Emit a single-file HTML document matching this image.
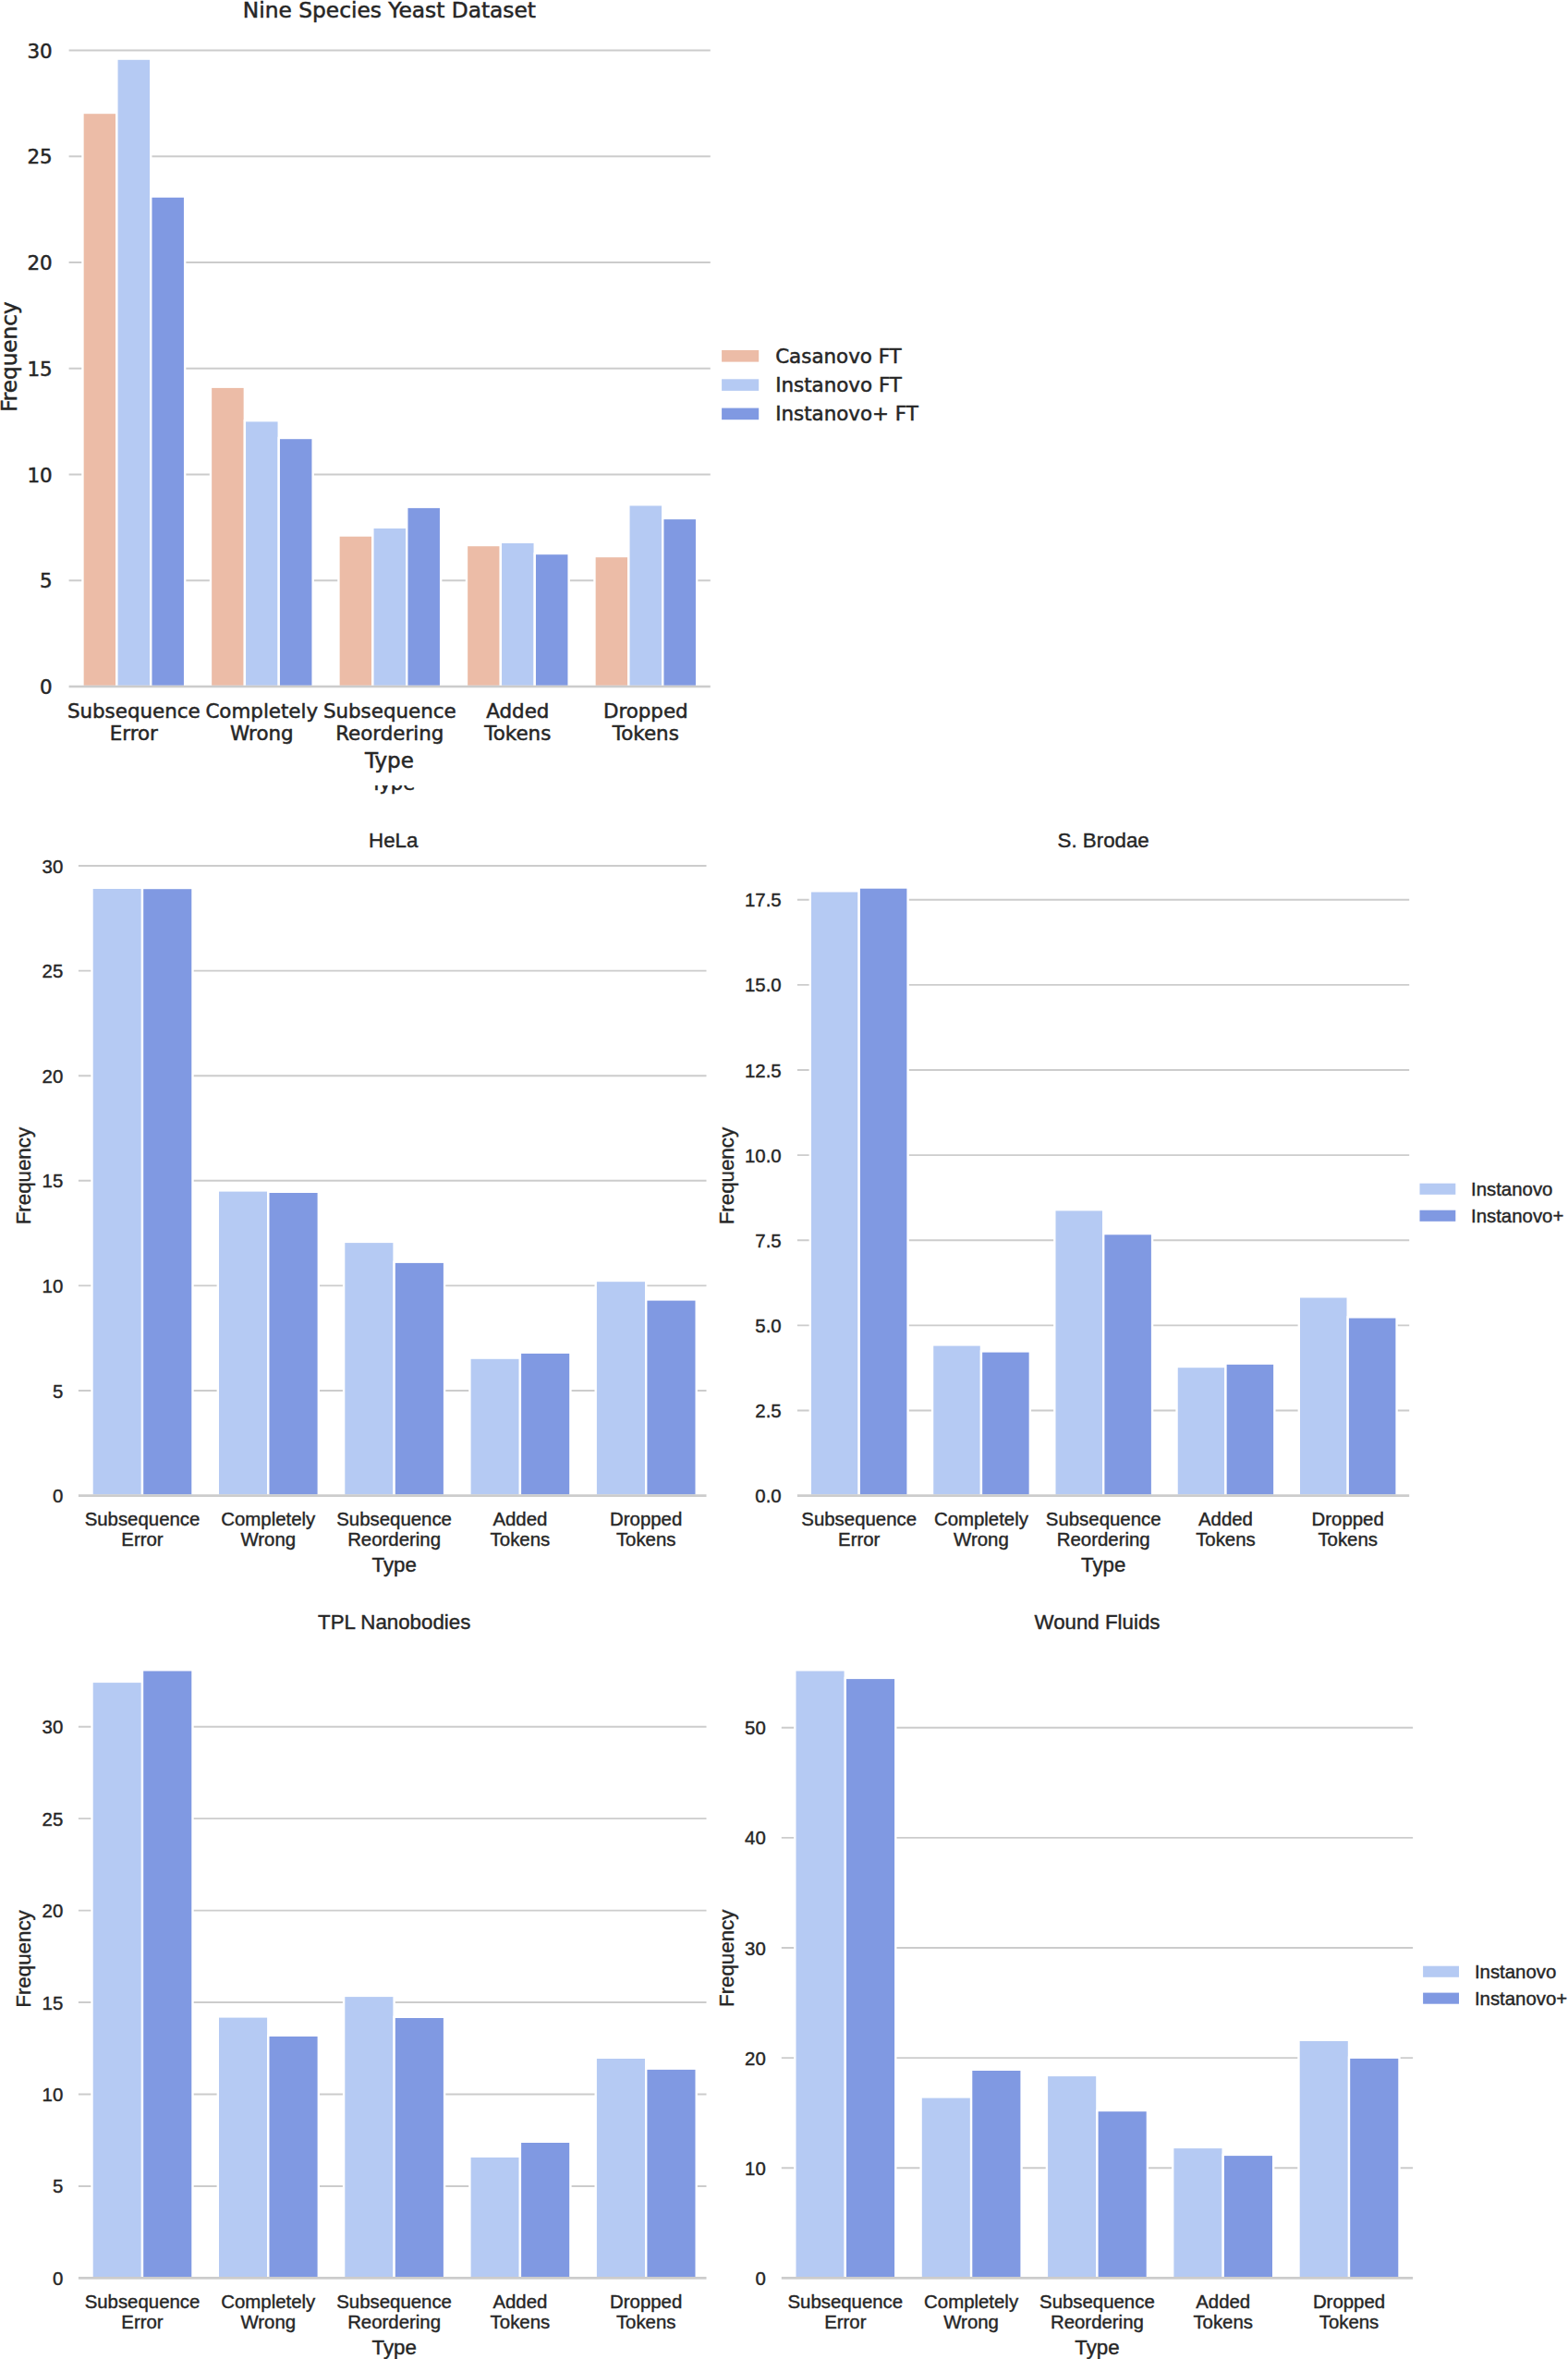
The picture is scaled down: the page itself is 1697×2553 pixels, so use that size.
<!DOCTYPE html>
<html lang="en"><head><meta charset="utf-8"><title>Error type frequency charts</title>
<style>html,body{margin:0;padding:0;background:#ffffff}body{width:1697px;height:2553px;overflow:hidden}svg{display:block}</style>
</head><body>
<svg width="1697" height="2553" viewBox="0 0 1697 2553">
<rect width="1697" height="2553" fill="#ffffff"/>
<defs><clipPath id="cut"><rect x="380" y="850" width="100" height="20"/></clipPath></defs>
<g font-family='"DejaVu Sans", "Liberation Sans", sans-serif' fill="#262626" stroke="#262626" stroke-width="0.5">
<g stroke="#cccccc" stroke-width="2">
<line x1="74.6" x2="768.8" y1="628.25" y2="628.25"/>
<line x1="74.6" x2="768.8" y1="513.5" y2="513.5"/>
<line x1="74.6" x2="768.8" y1="398.75" y2="398.75"/>
<line x1="74.6" x2="768.8" y1="284" y2="284"/>
<line x1="74.6" x2="768.8" y1="169.25" y2="169.25"/>
<line x1="74.6" x2="768.8" y1="54.5" y2="54.5"/>
</g>
<g stroke="#ffffff" stroke-width="2.4">
<rect x="89.45" y="122" width="36.9" height="621" fill="#ecbca7"/>
<rect x="126.35" y="63.6" width="36.9" height="679.4" fill="#b5caf3"/>
<rect x="163.25" y="212.6" width="36.9" height="530.4" fill="#8099e2"/>
<rect x="227.95" y="418.7" width="36.9" height="324.3" fill="#ecbca7"/>
<rect x="264.85" y="455.2" width="36.9" height="287.8" fill="#b5caf3"/>
<rect x="301.75" y="474" width="36.9" height="269" fill="#8099e2"/>
<rect x="366.45" y="579.5" width="36.9" height="163.5" fill="#ecbca7"/>
<rect x="403.35" y="570.7" width="36.9" height="172.3" fill="#b5caf3"/>
<rect x="440.25" y="548.7" width="36.9" height="194.3" fill="#8099e2"/>
<rect x="504.95" y="590" width="36.9" height="153" fill="#ecbca7"/>
<rect x="541.85" y="586.7" width="36.9" height="156.3" fill="#b5caf3"/>
<rect x="578.75" y="599" width="36.9" height="144" fill="#8099e2"/>
<rect x="643.45" y="602" width="36.9" height="141" fill="#ecbca7"/>
<rect x="680.35" y="546.2" width="36.9" height="196.8" fill="#b5caf3"/>
<rect x="717.25" y="560.9" width="36.9" height="182.1" fill="#8099e2"/>
</g>
<line x1="74.6" x2="768.8" y1="743" y2="743" stroke="#cccccc" stroke-width="2.6"/>
<g font-size="21.4" text-anchor="end">
<text x="56.6" y="751.2">0</text>
<text x="56.6" y="636.45">5</text>
<text x="56.6" y="521.7">10</text>
<text x="56.6" y="406.95">15</text>
<text x="56.6" y="292.2">20</text>
<text x="56.6" y="177.45">25</text>
<text x="56.6" y="62.7">30</text>
</g>
<g font-size="21.4" text-anchor="middle">
<text x="144.8" y="777.4">Subsequence</text>
<text x="144.8" y="801.4">Error</text>
<text x="283.3" y="777.4">Completely</text>
<text x="283.3" y="801.4">Wrong</text>
<text x="421.8" y="777.4">Subsequence</text>
<text x="421.8" y="801.4">Reordering</text>
<text x="560.3" y="777.4">Added</text>
<text x="560.3" y="801.4">Tokens</text>
<text x="698.8" y="777.4">Dropped</text>
<text x="698.8" y="801.4">Tokens</text>
</g>
<g font-size="23.3" text-anchor="middle">
<text x="421.4" y="830.8" font-size="23">Type</text>
<text x="421.4" y="18.7">Nine Species Yeast Dataset</text>
<text transform="translate(17.9 386.1) rotate(-90)" font-size="23.1">Frequency</text>
</g>
<rect x="781.1" y="379" width="40.1" height="12.6" fill="#ecbca7" stroke="none"/>
<text x="839.2" y="392.8" font-size="21.4">Casanovo FT</text>
<rect x="781.1" y="410.3" width="40.1" height="12.6" fill="#b5caf3" stroke="none"/>
<text x="839.2" y="424.1" font-size="21.4">Instanovo FT</text>
<rect x="781.1" y="441.6" width="40.1" height="12.6" fill="#8099e2" stroke="none"/>
<text x="839.2" y="455.4" font-size="21.4">Instanovo+ FT</text>
</g>
<g font-family='"Liberation Sans", "DejaVu Sans", sans-serif' fill="#262626" stroke="#262626" stroke-width="0.4">
<g stroke="#cccccc" stroke-width="1.9">
<line x1="84.9" x2="764.5" y1="1505" y2="1505"/>
<line x1="84.9" x2="764.5" y1="1391.4" y2="1391.4"/>
<line x1="84.9" x2="764.5" y1="1277.8" y2="1277.8"/>
<line x1="84.9" x2="764.5" y1="1164.2" y2="1164.2"/>
<line x1="84.9" x2="764.5" y1="1050.6" y2="1050.6"/>
<line x1="84.9" x2="764.5" y1="937" y2="937"/>
</g>
<g stroke="#ffffff" stroke-width="2.4">
<rect x="99.5" y="960.8" width="54.5" height="657.8" fill="#b5caf3"/>
<rect x="154" y="961" width="54.5" height="657.6" fill="#8099e2"/>
<rect x="235.8" y="1288.4" width="54.5" height="330.2" fill="#b5caf3"/>
<rect x="290.3" y="1289.8" width="54.5" height="328.8" fill="#8099e2"/>
<rect x="372.1" y="1343.9" width="54.5" height="274.7" fill="#b5caf3"/>
<rect x="426.6" y="1365.7" width="54.5" height="252.9" fill="#8099e2"/>
<rect x="508.4" y="1469.6" width="54.5" height="149" fill="#b5caf3"/>
<rect x="562.9" y="1463.7" width="54.5" height="154.9" fill="#8099e2"/>
<rect x="644.7" y="1386" width="54.5" height="232.6" fill="#b5caf3"/>
<rect x="699.2" y="1406.4" width="54.5" height="212.2" fill="#8099e2"/>
</g>
<line x1="84.9" x2="764.5" y1="1618.6" y2="1618.6" stroke="#cccccc" stroke-width="2.8"/>
<g font-size="20.4" text-anchor="end">
<text x="68.3" y="1626.1">0</text>
<text x="68.3" y="1512.5">5</text>
<text x="68.3" y="1398.9">10</text>
<text x="68.3" y="1285.3">15</text>
<text x="68.3" y="1171.7">20</text>
<text x="68.3" y="1058.1">25</text>
<text x="68.3" y="944.5">30</text>
</g>
<g font-size="20.4" text-anchor="middle">
<text x="154" y="1651">Subsequence</text>
<text x="154" y="1672.9">Error</text>
<text x="290.3" y="1651">Completely</text>
<text x="290.3" y="1672.9">Wrong</text>
<text x="426.6" y="1651">Subsequence</text>
<text x="426.6" y="1672.9">Reordering</text>
<text x="562.9" y="1651">Added</text>
<text x="562.9" y="1672.9">Tokens</text>
<text x="699.2" y="1651">Dropped</text>
<text x="699.2" y="1672.9">Tokens</text>
</g>
<g font-size="22.3" text-anchor="middle">
<text x="426.7" y="1700.8" font-size="22.3">Type</text>
<text x="425.7" y="916.7">HeLa</text>
<text transform="translate(33 1272.6) rotate(-90)" font-size="22.3">Frequency</text>
</g>
</g>
<g font-family='"Liberation Sans", "DejaVu Sans", sans-serif' fill="#262626" stroke="#262626" stroke-width="0.4">
<g stroke="#cccccc" stroke-width="1.9">
<line x1="862.9" x2="1525.2" y1="1526.49" y2="1526.49"/>
<line x1="862.9" x2="1525.2" y1="1434.38" y2="1434.38"/>
<line x1="862.9" x2="1525.2" y1="1342.26" y2="1342.26"/>
<line x1="862.9" x2="1525.2" y1="1250.15" y2="1250.15"/>
<line x1="862.9" x2="1525.2" y1="1158.04" y2="1158.04"/>
<line x1="862.9" x2="1525.2" y1="1065.92" y2="1065.92"/>
<line x1="862.9" x2="1525.2" y1="973.81" y2="973.81"/>
</g>
<g stroke="#ffffff" stroke-width="2.4">
<rect x="876.8" y="964.3" width="52.9" height="654.3" fill="#b5caf3"/>
<rect x="929.7" y="960.5" width="52.9" height="658.1" fill="#8099e2"/>
<rect x="1009.05" y="1455.4" width="52.9" height="163.2" fill="#b5caf3"/>
<rect x="1061.95" y="1462.4" width="52.9" height="156.2" fill="#8099e2"/>
<rect x="1141.3" y="1309.2" width="52.9" height="309.4" fill="#b5caf3"/>
<rect x="1194.2" y="1335.1" width="52.9" height="283.5" fill="#8099e2"/>
<rect x="1273.55" y="1479" width="52.9" height="139.6" fill="#b5caf3"/>
<rect x="1326.45" y="1475.6" width="52.9" height="143" fill="#8099e2"/>
<rect x="1405.8" y="1403.3" width="52.9" height="215.3" fill="#b5caf3"/>
<rect x="1458.7" y="1425.4" width="52.9" height="193.2" fill="#8099e2"/>
</g>
<line x1="862.9" x2="1525.2" y1="1618.6" y2="1618.6" stroke="#cccccc" stroke-width="2.8"/>
<g font-size="20.4" text-anchor="end">
<text x="845.7" y="1626.1">0.0</text>
<text x="845.7" y="1533.99">2.5</text>
<text x="845.7" y="1441.88">5.0</text>
<text x="845.7" y="1349.76">7.5</text>
<text x="845.7" y="1257.65">10.0</text>
<text x="845.7" y="1165.54">12.5</text>
<text x="845.7" y="1073.42">15.0</text>
<text x="845.7" y="981.31">17.5</text>
</g>
<g font-size="20.4" text-anchor="middle">
<text x="929.7" y="1651">Subsequence</text>
<text x="929.7" y="1672.9">Error</text>
<text x="1061.95" y="1651">Completely</text>
<text x="1061.95" y="1672.9">Wrong</text>
<text x="1194.2" y="1651">Subsequence</text>
<text x="1194.2" y="1672.9">Reordering</text>
<text x="1326.45" y="1651">Added</text>
<text x="1326.45" y="1672.9">Tokens</text>
<text x="1458.7" y="1651">Dropped</text>
<text x="1458.7" y="1672.9">Tokens</text>
</g>
<g font-size="22.3" text-anchor="middle">
<text x="1194.2" y="1700.8" font-size="22.3">Type</text>
<text x="1194.2" y="916.7">S. Brodae</text>
<text transform="translate(793.7 1272.6) rotate(-90)" font-size="22.3">Frequency</text>
</g>
<rect x="1536.5" y="1280.7" width="38.8" height="12.1" fill="#b5caf3" stroke="none"/>
<text x="1592" y="1293.8" font-size="20.4">Instanovo</text>
<rect x="1536.5" y="1309.7" width="38.8" height="12.1" fill="#8099e2" stroke="none"/>
<text x="1592" y="1322.8" font-size="20.4">Instanovo+</text>
</g>
<g font-family='"Liberation Sans", "DejaVu Sans", sans-serif' fill="#262626" stroke="#262626" stroke-width="0.4">
<g stroke="#cccccc" stroke-width="1.9">
<line x1="84.9" x2="764.5" y1="2365.95" y2="2365.95"/>
<line x1="84.9" x2="764.5" y1="2266.5" y2="2266.5"/>
<line x1="84.9" x2="764.5" y1="2167.05" y2="2167.05"/>
<line x1="84.9" x2="764.5" y1="2067.6" y2="2067.6"/>
<line x1="84.9" x2="764.5" y1="1968.15" y2="1968.15"/>
<line x1="84.9" x2="764.5" y1="1868.7" y2="1868.7"/>
</g>
<g stroke="#ffffff" stroke-width="2.4">
<rect x="99.5" y="1819.9" width="54.5" height="645.5" fill="#b5caf3"/>
<rect x="154" y="1807.3" width="54.5" height="658.1" fill="#8099e2"/>
<rect x="235.8" y="2182.4" width="54.5" height="283" fill="#b5caf3"/>
<rect x="290.3" y="2202.8" width="54.5" height="262.6" fill="#8099e2"/>
<rect x="372.1" y="2159.9" width="54.5" height="305.5" fill="#b5caf3"/>
<rect x="426.6" y="2182.8" width="54.5" height="282.6" fill="#8099e2"/>
<rect x="508.4" y="2333.7" width="54.5" height="131.7" fill="#b5caf3"/>
<rect x="562.9" y="2317.8" width="54.5" height="147.6" fill="#8099e2"/>
<rect x="644.7" y="2226.8" width="54.5" height="238.6" fill="#b5caf3"/>
<rect x="699.2" y="2238.7" width="54.5" height="226.7" fill="#8099e2"/>
</g>
<line x1="84.9" x2="764.5" y1="2465.4" y2="2465.4" stroke="#cccccc" stroke-width="2.8"/>
<g font-size="20.4" text-anchor="end">
<text x="68.3" y="2472.9">0</text>
<text x="68.3" y="2373.45">5</text>
<text x="68.3" y="2274">10</text>
<text x="68.3" y="2174.55">15</text>
<text x="68.3" y="2075.1">20</text>
<text x="68.3" y="1975.65">25</text>
<text x="68.3" y="1876.2">30</text>
</g>
<g font-size="20.4" text-anchor="middle">
<text x="154" y="2497.8">Subsequence</text>
<text x="154" y="2519.7">Error</text>
<text x="290.3" y="2497.8">Completely</text>
<text x="290.3" y="2519.7">Wrong</text>
<text x="426.6" y="2497.8">Subsequence</text>
<text x="426.6" y="2519.7">Reordering</text>
<text x="562.9" y="2497.8">Added</text>
<text x="562.9" y="2519.7">Tokens</text>
<text x="699.2" y="2497.8">Dropped</text>
<text x="699.2" y="2519.7">Tokens</text>
</g>
<g font-size="22.3" text-anchor="middle">
<text x="426.7" y="2547.6" font-size="22.3">Type</text>
<text x="426.7" y="1763">TPL Nanobodies</text>
<text transform="translate(33 2120) rotate(-90)" font-size="22.3">Frequency</text>
</g>
</g>
<g font-family='"Liberation Sans", "DejaVu Sans", sans-serif' fill="#262626" stroke="#262626" stroke-width="0.4">
<g stroke="#cccccc" stroke-width="1.9">
<line x1="845.8" x2="1529.1" y1="2346.28" y2="2346.28"/>
<line x1="845.8" x2="1529.1" y1="2227.16" y2="2227.16"/>
<line x1="845.8" x2="1529.1" y1="2108.04" y2="2108.04"/>
<line x1="845.8" x2="1529.1" y1="1988.92" y2="1988.92"/>
<line x1="845.8" x2="1529.1" y1="1869.8" y2="1869.8"/>
</g>
<g stroke="#ffffff" stroke-width="2.4">
<rect x="860.3" y="1807.3" width="54.5" height="658.1" fill="#b5caf3"/>
<rect x="914.8" y="1815.9" width="54.5" height="649.5" fill="#8099e2"/>
<rect x="996.6" y="2269.4" width="54.5" height="196" fill="#b5caf3"/>
<rect x="1051.1" y="2239.8" width="54.5" height="225.6" fill="#8099e2"/>
<rect x="1132.9" y="2245.9" width="54.5" height="219.5" fill="#b5caf3"/>
<rect x="1187.4" y="2284" width="54.5" height="181.4" fill="#8099e2"/>
<rect x="1269.2" y="2323.9" width="54.5" height="141.5" fill="#b5caf3"/>
<rect x="1323.7" y="2331.9" width="54.5" height="133.5" fill="#8099e2"/>
<rect x="1405.5" y="2207.8" width="54.5" height="257.6" fill="#b5caf3"/>
<rect x="1460" y="2226.7" width="54.5" height="238.7" fill="#8099e2"/>
</g>
<line x1="845.8" x2="1529.1" y1="2465.4" y2="2465.4" stroke="#cccccc" stroke-width="2.8"/>
<g font-size="20.4" text-anchor="end">
<text x="828.8" y="2472.9">0</text>
<text x="828.8" y="2353.78">10</text>
<text x="828.8" y="2234.66">20</text>
<text x="828.8" y="2115.54">30</text>
<text x="828.8" y="1996.42">40</text>
<text x="828.8" y="1877.3">50</text>
</g>
<g font-size="20.4" text-anchor="middle">
<text x="914.8" y="2497.8">Subsequence</text>
<text x="914.8" y="2519.7">Error</text>
<text x="1051.1" y="2497.8">Completely</text>
<text x="1051.1" y="2519.7">Wrong</text>
<text x="1187.4" y="2497.8">Subsequence</text>
<text x="1187.4" y="2519.7">Reordering</text>
<text x="1323.7" y="2497.8">Added</text>
<text x="1323.7" y="2519.7">Tokens</text>
<text x="1460" y="2497.8">Dropped</text>
<text x="1460" y="2519.7">Tokens</text>
</g>
<g font-size="22.3" text-anchor="middle">
<text x="1187.5" y="2547.6" font-size="22.3">Type</text>
<text x="1187.5" y="1763">Wound Fluids</text>
<text transform="translate(793.7 2119.3) rotate(-90)" font-size="22.3">Frequency</text>
</g>
<rect x="1540.1" y="2127.7" width="38.9" height="12.1" fill="#b5caf3" stroke="none"/>
<text x="1595.9" y="2140.6" font-size="20.4">Instanovo</text>
<rect x="1540.1" y="2156.6" width="38.9" height="12.1" fill="#8099e2" stroke="none"/>
<text x="1595.9" y="2169.5" font-size="20.4">Instanovo+</text>
</g>
<g clip-path="url(#cut)"><text x="425" y="854.6" font-family='"DejaVu Sans", "Liberation Sans", sans-serif' font-size="21" text-anchor="middle" fill="#262626" stroke="#262626" stroke-width="0.5">Type</text></g>
</svg></body></html>
